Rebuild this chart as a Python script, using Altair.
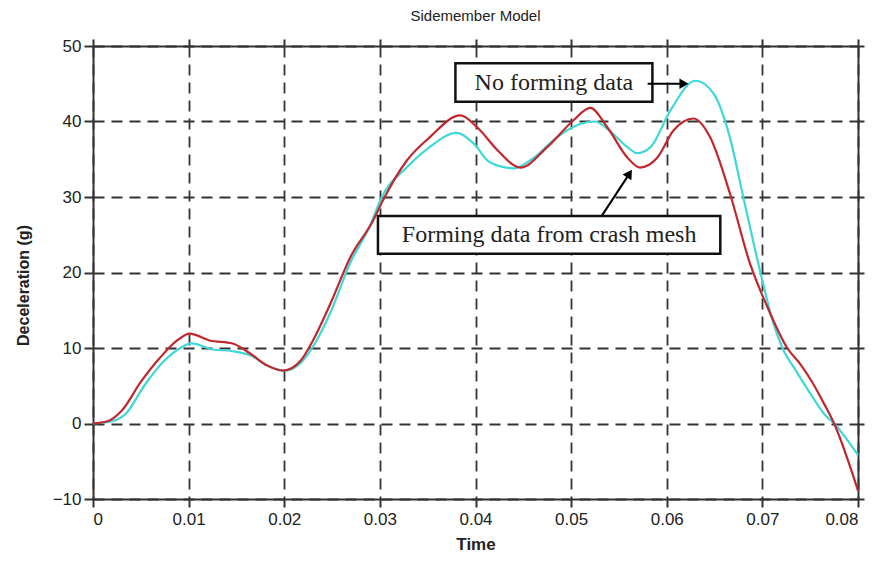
import altair as alt
import pandas as pd

# ---- data ----
red_t = [0, 0.0015, 0.003, 0.005, 0.007, 0.0088, 0.0101, 0.0122, 0.0146, 0.0164,
         0.0182, 0.0199, 0.0217, 0.023, 0.0248, 0.0269, 0.0293, 0.0303, 0.0328, 0.0352,
         0.0384, 0.0402, 0.0423, 0.0447, 0.0475, 0.0502, 0.052, 0.0538, 0.0559, 0.0572,
         0.059, 0.0607, 0.0628, 0.0645, 0.0666, 0.0687, 0.0705, 0.0726, 0.074, 0.0752,
         0.0765, 0.0775, 0.08]
red_y = [0, 0.3, 1.7, 5.5, 8.7, 11.0, 11.9, 11.0, 10.6, 9.3,
         7.7, 7.0, 8.3, 11.0, 15.8, 22.0, 26.9, 29.5, 34.8, 37.9,
         40.8, 39.2, 36.2, 33.9, 36.6, 40.1, 41.8, 39.2, 35.2, 33.9,
         35.2, 38.8, 40.4, 38.0, 30.5, 21.2, 15.5, 10.0, 7.8, 5.5,
         2.5, 0.0, -8.9]

cyan_t = [0, 0.002, 0.0035, 0.0053, 0.0073, 0.009, 0.0103, 0.0125, 0.0145, 0.0165,
          0.0182, 0.02, 0.0217, 0.0232, 0.025, 0.0268, 0.029, 0.0302, 0.0328, 0.0352,
          0.038, 0.0398, 0.0415, 0.044, 0.046, 0.0485, 0.051, 0.0525, 0.054, 0.0559,
          0.0569, 0.0583, 0.0604, 0.063, 0.0649, 0.0666, 0.068, 0.0698, 0.0711, 0.0721,
          0.0735, 0.075, 0.0765, 0.0775, 0.08]
cyan_y = [0, 0.3, 1.4, 4.9, 8.1, 9.9, 10.6, 9.8, 9.6, 9.0,
          7.7, 7.0, 8.0, 10.6, 15.2, 21.0, 26.3, 30.0, 33.9, 36.6,
          38.5, 37.1, 34.6, 33.8, 35.1, 37.9, 39.7, 40.0, 38.8, 36.6,
          35.8, 36.6, 41.5, 45.4, 43.7, 37.9, 30.0, 20.0, 13.5, 10.0,
          7.0, 4.0, 1.2, 0.0, -4.2]

x_ticks = [0, 0.01, 0.02, 0.03, 0.04, 0.05, 0.06, 0.07, 0.08]
y_ticks = [-10, 0, 10, 20, 30, 40, 50]

box_labels = ["No forming data", "Forming data from crash mesh"]
box_x1 = [0.0379, 0.0298]
box_x2 = [0.0585, 0.0656]
box_y1 = [42.6, 22.5]
box_y2 = [47.7, 27.5]
box_tx = [0.0482, 0.0477]
box_ty = [45.15, 25.0]

arrow_x1 = [0.0580, 0.0532]
arrow_y1 = [45.0, 27.5]
arrow_x2 = [0.0618, 0.0561]
arrow_y2 = [45.0, 33.1]

df_red = pd.DataFrame({"t": red_t, "y": red_y})
df_cyan = pd.DataFrame({"t": cyan_t, "y": cyan_y})
df_box = pd.DataFrame({"label": box_labels, "x1": box_x1, "x2": box_x2,
                       "y1": box_y1, "y2": box_y2, "tx": box_tx, "ty": box_ty})
df_arrow = pd.DataFrame({"x1": arrow_x1, "y1": arrow_y1, "x2": arrow_x2, "y2": arrow_y2})

xs = alt.Scale(domain=[0, 0.08], nice=False, zero=False)
ys = alt.Scale(domain=[-10, 50], nice=False, zero=False)

AX = "#333333"
common = dict(tickWidth=2, tickColor=AX, domainColor=AX, domainWidth=2)

bottom_axis = alt.Axis(orient="bottom", values=x_ticks,
                       labelExpr="datum.value == 0 ? '0' : format(datum.value, '.2f')",
                       title="Time", grid=True, gridDash=[11, 7], gridColor=AX, gridWidth=1.8,
                       tickSize=8, labelFont="Liberation Sans", labelFontSize=17,
                       labelColor="#222", labelPadding=4, titleFont="Liberation Sans",
                       titleFontSize=17, titleFontWeight="bold", titleColor="#222",
                       titlePadding=9, **common)
left_axis = alt.Axis(orient="left", values=y_ticks, format="d",
                     title="Deceleration (g)", grid=True, gridDash=[11, 7], gridColor=AX,
                     gridWidth=1.8, tickSize=9, labelFont="Liberation Sans", labelFontSize=17,
                     labelColor="#222", labelPadding=3, titleFont="Liberation Sans",
                     titleFontSize=16, titleFontWeight="bold", titleColor="#222",
                     titleX=-62, titleY=239, **common)
top_axis = alt.Axis(orient="top", values=x_ticks, labels=False, title=None, grid=False,
                    tickSize=7, **common)
right_axis = alt.Axis(orient="right", values=y_ticks, labels=False, title=None, grid=False,
                      tickSize=6, **common)

cyan = alt.Chart(df_cyan).mark_line(color="#3ed8d8", strokeWidth=2.2, interpolate="monotone").encode(
    x=alt.X("t:Q", scale=xs, axis=bottom_axis),
    y=alt.Y("y:Q", scale=ys, axis=left_axis),
)
red = alt.Chart(df_red).mark_line(color="#c1272d", strokeWidth=2.2, interpolate="monotone").encode(
    x=alt.X("t:Q", scale=xs, axis=top_axis),
    y=alt.Y("y:Q", scale=ys, axis=right_axis),
)

boxes = alt.Chart(df_box).mark_rect(fill="white", stroke="#111", strokeWidth=2.5).encode(
    x=alt.X("x1:Q", scale=xs, axis=None), x2="x2",
    y=alt.Y("y1:Q", scale=ys, axis=None), y2="y2",
)
texts = alt.Chart(df_box).mark_text(font="Liberation Serif", fontSize=24, color="#222").encode(
    x=alt.X("tx:Q", scale=xs, axis=None),
    y=alt.Y("ty:Q", scale=ys, axis=None),
    text="label:N",
)
shafts = alt.Chart(df_arrow).mark_rule(color="black", strokeWidth=2).encode(
    x=alt.X("x1:Q", scale=xs, axis=None), x2="x2",
    y=alt.Y("y1:Q", scale=ys, axis=None), y2="y2",
)
head1 = alt.Chart(df_arrow.iloc[[0]]).mark_point(shape="triangle-right", filled=True, color="black",
                                                 size=110, opacity=1).encode(
    x=alt.X("x2:Q", scale=xs, axis=None), y=alt.Y("y2:Q", scale=ys, axis=None))
head2 = alt.Chart(df_arrow.iloc[[1]]).mark_point(shape="triangle-up", angle=33, filled=True,
                                                 color="black", size=110, opacity=1).encode(
    x=alt.X("x2:Q", scale=xs, axis=None), y=alt.Y("y2:Q", scale=ys, axis=None))

chart = alt.layer(cyan, red, boxes, texts, shafts, head1, head2).resolve_axis(
    x="independent", y="independent"
).properties(
    width=765, height=453,
    autosize=alt.AutoSizeParams(type="none"),
    padding={"left": 93, "top": 46, "right": 14, "bottom": 62},
    title=alt.Title("Sidemember Model", font="Liberation Sans",
                    fontSize=15, fontWeight="normal", color="#222", offset=13),
).configure_view(stroke=None).configure(background="white")

chart.save("out.html", embed_options={"renderer": "svg", "actions": False})
